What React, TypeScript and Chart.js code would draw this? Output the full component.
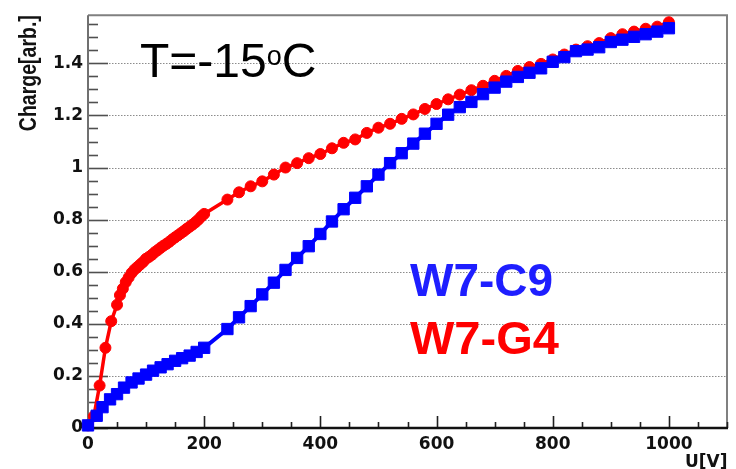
import React, { useEffect, useRef } from 'react';
import { Chart, registerables } from 'chart.js';

Chart.register(...registerables);

// ---- data ----
const c9Voltage = [0, 15, 25, 38, 50, 62, 75, 87, 100, 112, 125, 137, 150, 162, 175, 187, 200,
  240, 260, 280, 300, 320, 340, 360, 380, 400, 420, 440, 460, 480, 500, 520, 540, 560, 580, 600,
  620, 640, 660, 680, 700, 720, 740, 760, 780, 800, 820, 840, 860, 880, 900, 920, 940, 960, 980, 1000];
const c9Charge = [0.01, 0.047, 0.08, 0.11, 0.13, 0.155, 0.175, 0.19, 0.205, 0.22, 0.233, 0.245, 0.258, 0.268, 0.278, 0.292, 0.308,
  0.38, 0.425, 0.468, 0.513, 0.558, 0.607, 0.653, 0.698, 0.745, 0.793, 0.84, 0.884, 0.928, 0.973, 1.017, 1.055, 1.092, 1.13, 1.168,
  1.203, 1.232, 1.252, 1.282, 1.307, 1.33, 1.348, 1.364, 1.381, 1.406, 1.424, 1.447, 1.453, 1.462, 1.482, 1.491, 1.502, 1.512, 1.522, 1.535];

const g4Voltage = [0, 10, 20, 30, 40, 50, 55, 60, 65, 70, 75, 80, 85, 90, 95, 100, 105, 110, 115, 120, 125,
  130, 135, 140, 145, 150, 155, 160, 165, 170, 175, 180, 185, 190, 195, 200,
  240, 260, 280, 300, 320, 340, 360, 380, 400, 420, 440, 460, 480, 500, 520, 540, 560, 580, 600,
  620, 640, 660, 680, 700, 720, 740, 760, 780, 800, 820, 840, 860, 880, 900, 920, 940, 960, 980, 1000];
const g4Charge = [0.01, 0.045, 0.163, 0.308, 0.41, 0.473, 0.51, 0.535, 0.56, 0.578, 0.595, 0.608, 0.618, 0.628, 0.638, 0.65, 0.657, 0.665, 0.675, 0.683, 0.692,
  0.7, 0.707, 0.715, 0.724, 0.732, 0.74, 0.748, 0.756, 0.765, 0.773, 0.781, 0.79, 0.8, 0.812, 0.822,
  0.877, 0.905, 0.928, 0.947, 0.973, 1.0, 1.017, 1.036, 1.052, 1.074, 1.095, 1.108, 1.133, 1.153, 1.168, 1.187, 1.204, 1.225, 1.244,
  1.262, 1.28, 1.297, 1.314, 1.333, 1.352, 1.371, 1.386, 1.398, 1.415, 1.434, 1.453, 1.466, 1.478, 1.497, 1.512, 1.522, 1.533, 1.541, 1.558];

const xTicks = [0, 200, 400, 600, 800, 1000];
const yTicks = [0, 0.2, 0.4, 0.6, 0.8, 1, 1.2, 1.4];
const xMinorStep = 50;
const yMinorStep = 0.05;
const xRange = [0, 1100];
const yRange = [0, 1.585];

const yTitle = 'Charge[arb.]';
const xTitle = 'U[V]';
const tempMain = 'T=-15';
const tempSup = 'o';
const tempUnit = 'C';
const labelC9 = 'W7-C9';
const labelG4 = 'W7-G4';

const BLUE = '#0000ff';
const RED = '#ff0000';

const tickFont = { family: "'DejaVu Sans', sans-serif", size: 17, weight: 'bold' as const };

const rootPlugin = {
  id: 'rootFrame',
  beforeDatasetsDraw(chart: any) {
    const { ctx, chartArea: a, scales } = chart;
    const x = scales.x, y = scales.y;
    ctx.save();
    // dotted grid
    ctx.strokeStyle = '#8c8c8c';
    ctx.lineWidth = 1;
    ctx.setLineDash([1.5, 1.5]);
    for (const v of yTicks) {
      if (v === 0) continue;
      const py = Math.round(y.getPixelForValue(v)) + 0.5;
      ctx.beginPath(); ctx.moveTo(a.left, py); ctx.lineTo(a.right, py); ctx.stroke();
    }
    ctx.setLineDash([]);
    // top + right frame
    ctx.strokeStyle = '#808080';
    ctx.lineWidth = 2;
    ctx.beginPath();
    ctx.moveTo(a.left, a.top); ctx.lineTo(a.right, a.top); ctx.lineTo(a.right, a.bottom);
    ctx.stroke();
    // y ticks (inside)
    ctx.strokeStyle = '#505050';
    ctx.lineWidth = 1.6;
    for (let v = 0; v <= yRange[1] + 1e-9; v += yMinorStep) {
      const vv = Math.round(v * 100) / 100;
      const major = yTicks.some(t => Math.abs(t - vv) < 1e-6);
      const py = Math.round(y.getPixelForValue(vv)) + 0.5;
      ctx.beginPath(); ctx.moveTo(a.left, py); ctx.lineTo(a.left + (major ? 20 : 10), py); ctx.stroke();
    }
    // x ticks (inside)
    ctx.strokeStyle = '#202020';
    for (let v = 0; v <= xRange[1]; v += xMinorStep) {
      const major = xTicks.includes(v);
      const px = Math.round(x.getPixelForValue(v)) + 0.5;
      ctx.beginPath(); ctx.moveTo(px, a.bottom); ctx.lineTo(px, a.bottom - (major ? 12 : 6)); ctx.stroke();
    }
    // left axis
    ctx.strokeStyle = '#707070';
    ctx.lineWidth = 2;
    ctx.beginPath(); ctx.moveTo(a.left, a.top); ctx.lineTo(a.left, a.bottom); ctx.stroke();
    // bottom axis
    ctx.strokeStyle = '#111111';
    ctx.lineWidth = 2.5;
    ctx.beginPath(); ctx.moveTo(a.left, a.bottom); ctx.lineTo(a.right + 1, a.bottom); ctx.stroke();
    ctx.restore();
  },
  afterDatasetsDraw(chart: any) {
    const { ctx, chartArea: a } = chart;
    ctx.save();
    // y title, rotated, stretched like the ROOT bitmap
    ctx.fillStyle = '#111';
    ctx.font = "bold 19.5px 'Liberation Sans', Arial, sans-serif";
    ctx.translate(36, a.top);
    ctx.rotate(-Math.PI / 2);
    ctx.scale(1, 1.25);
    ctx.textAlign = 'right';
    ctx.textBaseline = 'alphabetic';
    ctx.fillText(yTitle, 0, 0);
    ctx.restore();

    ctx.save();
    ctx.fillStyle = '#111';
    ctx.font = "bold 17px 'DejaVu Sans', sans-serif";
    ctx.textAlign = 'left';
    ctx.textBaseline = 'alphabetic';
    ctx.fillText(xTitle, 685, 467);

    // temperature annotation
    ctx.fillStyle = '#000';
    ctx.font = "48px 'Liberation Sans', Arial, sans-serif";
    let tx = 140;
    ctx.fillText(tempMain, tx, 77);
    tx += ctx.measureText(tempMain).width;
    ctx.font = "27px 'Liberation Sans', Arial, sans-serif";
    ctx.fillText(tempSup, tx, 65);
    tx += ctx.measureText(tempSup).width;
    ctx.font = "48px 'Liberation Sans', Arial, sans-serif";
    ctx.fillText(tempUnit, tx, 77);

    // labels
    ctx.font = "bold 46px 'Liberation Sans', Arial, sans-serif";
    ctx.fillStyle = '#1e1eff';
    ctx.fillText(labelC9, 410, 296);
    ctx.font = "bold 47px 'Liberation Sans', Arial, sans-serif";
    ctx.fillStyle = RED;
    ctx.fillText(labelG4, 410, 354);
    ctx.restore();
  },
};

export default function App() {
  const ref = useRef<HTMLCanvasElement>(null);
  useEffect(() => {
    if (!ref.current) return;
    const chart = new Chart(ref.current, {
      type: 'line',
      data: {
        datasets: [
          {
            label: labelC9,
            data: c9Voltage.map((v, i) => ({ x: v, y: c9Charge[i] })),
            borderColor: BLUE,
            backgroundColor: BLUE,
            borderWidth: 4,
            pointStyle: 'rect',
            pointRadius: 8,
            pointBorderWidth: 1,
            pointBorderColor: BLUE,
            pointBackgroundColor: BLUE,
            tension: 0,
            clip: false as any,
          },
          {
            label: labelG4,
            data: g4Voltage.map((v, i) => ({ x: v, y: g4Charge[i] })),
            borderColor: RED,
            backgroundColor: RED,
            borderWidth: 3.5,
            pointStyle: 'circle',
            pointRadius: 5.5,
            pointBorderWidth: 1,
            pointBorderColor: RED,
            pointBackgroundColor: RED,
            tension: 0,
            clip: false as any,
          },
        ],
      },
      options: {
        animation: false,
        responsive: false,
        maintainAspectRatio: false,
        devicePixelRatio: 1,
        layout: { padding: { top: 10, right: 7, left: 0, bottom: 0 } },
        plugins: { legend: { display: false }, tooltip: { enabled: false } },
        scales: {
          x: {
            type: 'linear',
            min: xRange[0],
            max: xRange[1],
            afterBuildTicks: (s: any) => { s.ticks = xTicks.map(v => ({ value: v })); },
            afterFit: (s: any) => { s.height = 41; },
            grid: { display: false, drawTicks: false },
            border: { display: false },
            ticks: { padding: 6, font: tickFont, color: '#111', maxRotation: 0, autoSkip: false,
              callback: (v: any) => String(v) },
          },
          y: {
            type: 'linear',
            min: yRange[0],
            max: yRange[1],
            afterBuildTicks: (s: any) => { s.ticks = yTicks.map(v => ({ value: v })); },
            afterFit: (s: any) => { s.width = 88; },
            grid: { display: false, drawTicks: false },
            border: { display: false },
            ticks: { padding: 5, font: tickFont, color: '#111', autoSkip: false,
              callback: (v: any) => String(+(+v).toFixed(2)) },
          },
        },
      },
      plugins: [rootPlugin],
    } as any);
    return () => chart.destroy();
  }, []);
  return (
    <div style={{ position: 'absolute', left: 0, top: 0, width: 736, height: 469, background: '#fff' }}>
      <canvas ref={ref} width={736} height={469} style={{ display: 'block' }} />
    </div>
  );
}
